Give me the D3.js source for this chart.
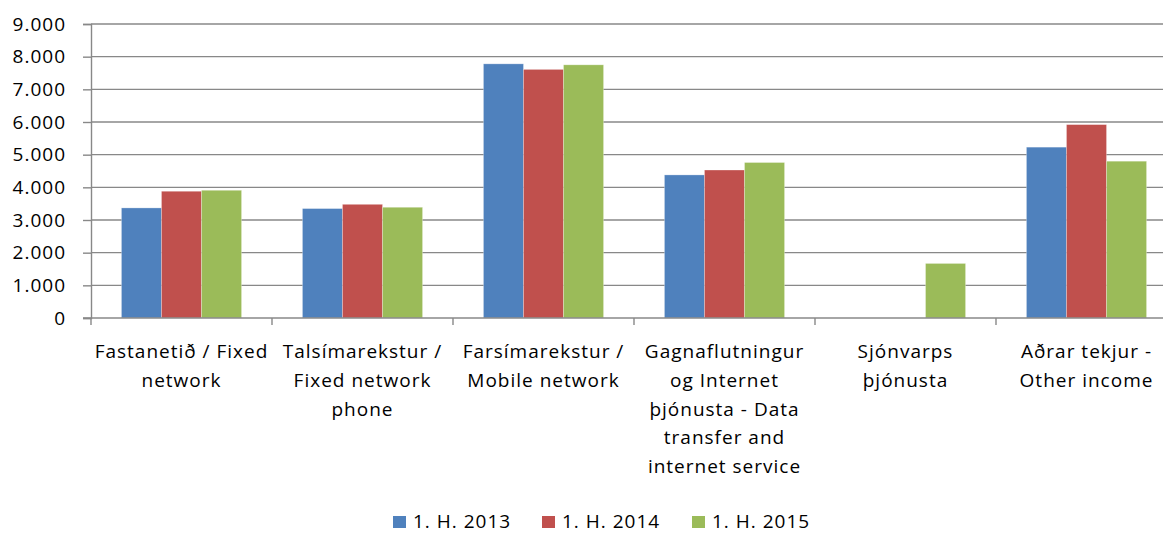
<!DOCTYPE html>
<html>
<head>
<meta charset="utf-8">
<script src="https://cdn.jsdelivr.net/npm/d3@7"></script>
<style>
  html, body { margin: 0; padding: 0; background: #fff; }
  svg { display: block; }
  text { font-family: "Open Sans", sans-serif; fill: #000; letter-spacing: 1px; }
</style>
</head>
<body>
<svg id="chart" width="1163" height="534"></svg>
<script>
// Revenue by segment, first half of each year
const categories = [
  ["Fastanetið / Fixed", "network"],
  ["Talsímarekstur /", "Fixed network", "phone"],
  ["Farsímarekstur /", "Mobile network"],
  ["Gagnaflutningur", "og Internet", "þjónusta - Data", "transfer and", "internet service"],
  ["Sjónvarps", "þjónusta"],
  ["Aðrar tekjur -", "Other income"]
];
const seriesNames = ["1. H. 2013", "1. H. 2014", "1. H. 2015"];
const values2013 = [3370, 3350, 7780, 4380, null, 5230];
const values2014 = [3880, 3480, 7610, 4530, null, 5920];
const values2015 = [3910, 3390, 7750, 4760, 1670, 4800];
const colors = ["#4F81BD", "#C0504D", "#9BBB59"];
const yTicks = [0, 1000, 2000, 3000, 4000, 5000, 6000, 7000, 8000, 9000];

const series = [values2013, values2014, values2015];
const svg = d3.select("#chart");

const plotLeft = 91, plotTop = 24, plotBottom = 318;
const band = 181;
const x = d3.scaleBand()
  .domain(d3.range(categories.length))
  .range([plotLeft, plotLeft + band * categories.length])
  .paddingInner(0).paddingOuter(0);
const xs = d3.scaleBand()
  .domain(d3.range(series.length))
  .range([0, x.bandwidth()])
  .paddingInner(0)
  .paddingOuter(0.76);
const y = d3.scaleLinear().domain([0, 9000]).range([plotBottom, plotTop]);

const fmt = v => d3.format(",")(v).replace(/,/g, ".");

// horizontal gridlines
svg.append("g")
  .selectAll("line")
  .data(yTicks.filter(d => d > 0))
  .join("line")
  .attr("x1", plotLeft).attr("x2", 1163)
  .attr("y1", d => y(d)).attr("y2", d => y(d))
  .attr("stroke", "#888").attr("stroke-width", 1.4);

// bars
const groups = svg.append("g")
  .selectAll("g")
  .data(series)
  .join("g")
  .attr("fill", (d, i) => colors[i]);
groups.selectAll("rect")
  .data((d, si) => d.map((v, ci) => ({ v, ci, si })).filter(e => e.v != null))
  .join("rect")
  .attr("x", d => x(d.ci) + xs(d.si))
  .attr("width", xs.bandwidth())
  .attr("y", d => y(d.v))
  .attr("height", d => y(0) - y(d.v))
  .attr("stroke", "rgba(255,255,255,0.35)")
  .attr("stroke-width", 0.8);

// y axis
const yAxis = svg.append("g")
  .attr("transform", `translate(${plotLeft},0)`)
  .call(d3.axisLeft(y).tickValues(yTicks).tickFormat(fmt).tickSize(8).tickPadding(17));
yAxis.select(".domain").attr("stroke", "#888").attr("stroke-width", 1.4);
yAxis.selectAll(".tick line").attr("stroke", "#888").attr("stroke-width", 1.4);
yAxis.selectAll(".tick text")
  .attr("font-size", 19).attr("font-family", "'Open Sans', sans-serif").attr("fill", "#000");

// x axis with ticks between categories
const xAxis = svg.append("g").attr("transform", `translate(0,${plotBottom})`);
xAxis.append("line")
  .attr("x1", plotLeft - 8).attr("x2", 1163)
  .attr("stroke", "#888").attr("stroke-width", 1.4);
xAxis.selectAll("line.tick")
  .data(d3.range(categories.length + 1))
  .join("line")
  .attr("class", "tick")
  .attr("x1", i => plotLeft + band * i).attr("x2", i => plotLeft + band * i)
  .attr("y1", 0).attr("y2", 7)
  .attr("stroke", "#888").attr("stroke-width", 1.4);

// category labels
const labels = svg.append("g")
  .selectAll("text")
  .data(categories)
  .join("text")
  .attr("text-anchor", "middle")
  .attr("font-size", 19)
  .attr("x", (d, i) => x(i) + x.bandwidth() / 2)
  .attr("y", 358);
labels.selectAll("tspan")
  .data(d => d)
  .join("tspan")
  .attr("x", function () { return d3.select(this.parentNode).attr("x"); })
  .attr("dy", (d, i) => i === 0 ? 0 : 28.8)
  .text(d => d);

// legend
const legendX = [393, 542, 692];
const legend = svg.append("g")
  .selectAll("g")
  .data(seriesNames)
  .join("g")
  .attr("transform", (d, i) => `translate(${legendX[i]},0)`);
legend.append("rect")
  .attr("x", 0).attr("y", 516).attr("width", 13).attr("height", 12)
  .attr("fill", (d, i) => colors[i]);
legend.append("text")
  .attr("x", 20).attr("y", 528)
  .attr("font-size", 19)
  .text(d => d);
</script>
</body>
</html>
